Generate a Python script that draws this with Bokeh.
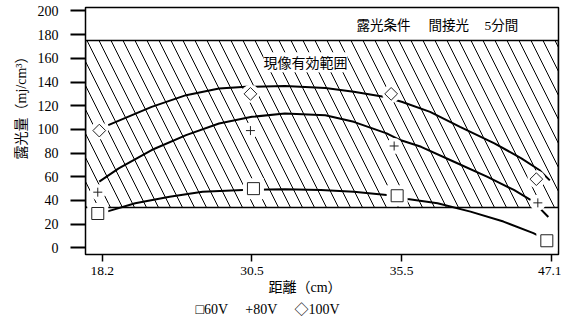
from bokeh.plotting import figure
from bokeh.models import BoxAnnotation, Label, Title, FixedTicker, Range1d
from bokeh.embed import file_html
from bokeh.resources import INLINE
import math

# ---- data ----
distances = ["18.2", "30.5", "35.5", "47.1"]          # x categories (cm)
y_ticks = [0, 20, 40, 60, 80, 100, 120, 140, 160, 180, 200]

band_low = 34      # 現像有効範囲 lower bound
band_high = 175    # 現像有効範囲 upper bound

# measured points (x in category-index units as placed in the picture)
x_60v = [-0.03, 1.01, 1.97, 2.97]
v_60v = [29, 50, 44, 6]
x_80v = [-0.03, 0.99, 1.95, 2.91]
v_80v = [47, 99, 86, 38]
x_100v = [-0.02, 0.99, 1.93, 2.90]
v_100v = [99, 130, 130, 58]

# fitted curves
cx_60v = [0.03, 0.22, 0.45, 0.67, 0.94, 1.22, 1.46, 1.68, 1.90, 2.04, 2.24, 2.46, 2.68, 2.88, 2.95]
cy_60v = [30.6, 37.7, 43.2, 47.4, 48.9, 49.4, 48.9, 47.4, 44.7, 41.3, 37.7, 30.6, 22.2, 12.4, 8.0]
cx_80v = [-0.02, 0.11, 0.33, 0.56, 0.78, 1.00, 1.22, 1.49, 1.68, 1.90, 1.99, 2.13, 2.35, 2.57, 2.75, 2.88, 2.98]
cy_80v = [55.9, 67.1, 82.6, 95.2, 105.0, 110.6, 113.5, 112.0, 106.4, 96.6, 91.0, 85.3, 72.7, 60.1, 48.9, 39.0, 26.0]
cx_100v = [0.04, 0.33, 0.56, 0.78, 0.96, 1.22, 1.49, 1.68, 1.88, 2.00, 2.19, 2.39, 2.62, 2.80, 2.92, 2.99]
cy_100v = [103.6, 119.0, 128.9, 134.5, 135.9, 136.7, 135.0, 131.7, 127.5, 123.3, 114.8, 102.2, 88.2, 75.6, 65.7, 57.0]

SERIF = "Liberation Serif, Noto Sans CJK JP"
CJK = "Noto Sans CJK JP"

p = figure(width=561, height=321, output_backend="svg", toolbar_location=None, title=None,
           x_range=Range1d(-0.112, 3.048), y_range=Range1d(-5.6, 202.9),
           min_border_left=85, min_border_right=3, min_border_top=7, min_border_bottom=0)

p.xgrid.visible = False
p.ygrid.visible = False
p.outline_line_color = "black"
p.outline_line_width = 1.5
p.background_fill_color = "white"
p.border_fill_color = "white"

# axes
p.xaxis.ticker = FixedTicker(ticks=list(range(len(distances))))
p.xaxis.major_label_overrides = {i: d for i, d in enumerate(distances)}
p.yaxis.ticker = FixedTicker(ticks=y_ticks)
for ax in (p.xaxis, p.yaxis):
    ax.axis_line_color = None
    ax.minor_tick_line_color = None
    ax.major_tick_in = 0
    ax.major_tick_line_color = "black"
    ax.major_label_text_color = "black"
    ax.major_label_text_font = SERIF
p.yaxis.major_tick_out = 15
p.yaxis.major_tick_line_width = 2
p.yaxis.major_label_standoff = 12
p.yaxis.major_label_text_font_size = "14px"
p.xaxis.major_tick_out = 7
p.xaxis.major_tick_line_width = 1.5
p.xaxis.major_label_standoff = 5
p.xaxis.major_label_text_font_size = "13.5px"

# hatched effective range
band = BoxAnnotation(bottom=band_low, top=band_high, fill_color=None, fill_alpha=0,
                     hatch_pattern="\\", hatch_scale=24, hatch_weight=1, hatch_color="black",
                     line_color="black", line_width=1.5, line_alpha=1, level="underlay")
p.add_layout(band)

# curves
for cx, cy in ((cx_60v, cy_60v), (cx_80v, cy_80v), (cx_100v, cy_100v)):
    p.line(cx, cy, line_color="black", line_width=2)

# white halos around markers
p.scatter(x_60v, v_60v, marker="square", size=21, fill_color="white", line_color=None)
p.scatter(x_80v, v_80v, marker="circle", size=16, fill_color="white", line_color=None)
p.scatter(x_100v, v_100v, marker="circle", size=18, fill_color="white", line_color=None)

# markers
p.scatter(x_60v, v_60v, marker="square", size=12, fill_color="white", line_color="#222", line_width=1)
p.scatter(x_80v, v_80v, marker="cross", size=9, line_color="#222", line_width=1)
p.scatter(x_100v, v_100v, marker="square", angle=math.pi / 4, size=9, fill_color="white",
          line_color="#222", line_width=1)

# texts inside plot
p.add_layout(Label(x=1.358, y=156.7, text="現像有効範囲", text_align="center", text_baseline="middle",
                   text_font=CJK, text_font_size="14px", text_color="black",
                   background_fill_color="white"))
for tx, t in ((1.698, "露光条件"), (2.179, "間接光"), (2.554, "5分間")):
    p.add_layout(Label(x=tx, y=188, text=t, text_align="left", text_baseline="middle",
                       text_font=SERIF, text_font_size="13.5px", text_color="black"))

# axis titles and legend line
xlab = Title(text="距離（cm）", align="left", offset=183, text_font=SERIF, text_font_size="14px",
             text_font_style="normal", text_color="black", standoff=1)
p.add_layout(xlab, "below")
leg = Title(text="□60V　  +80V　   ◇100V", align="left", offset=110, text_font=SERIF,
            text_font_size="14px", text_font_style="normal", text_color="black", standoff=9)
p.add_layout(leg, "below")
ylab = Title(text="露光量（mj/cm³）", align="left", offset=95, text_font=SERIF, text_font_size="14px",
             text_font_style="normal", text_color="black", standoff=12)
p.add_layout(ylab, "left")

open("out.html", "w").write(file_html(p, INLINE))
